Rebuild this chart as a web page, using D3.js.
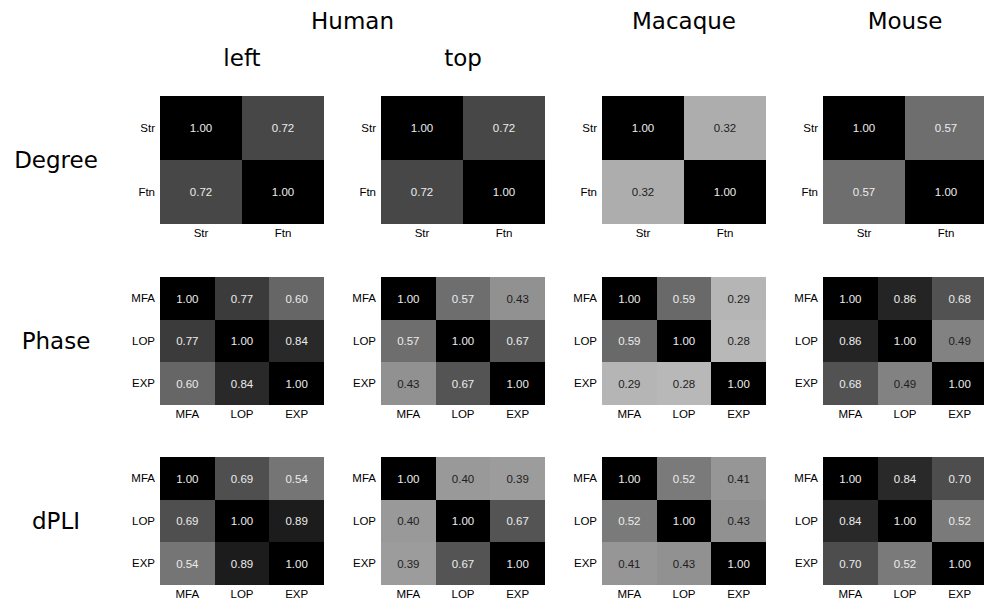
<!DOCTYPE html>
<meta charset="utf-8">
<title>Correlation matrices</title>
<script src="https://d3js.org/d3.v7.min.js"></script>
<style>
  body { margin: 0; background: #fff; }
  .tick text { font-family: "Liberation Sans", Arial, sans-serif; font-size: 11.5px; fill: #000; }
  .title { font-family: "DejaVu Sans", Verdana, sans-serif; font-size: 23px; fill: #000; }
  .val { font-family: "Liberation Sans", Arial, sans-serif; font-size: 11.5px; }
</style>
<div id="fig"></div>
<script>

// column headings
var species = ["Human", "Macaque", "Mouse"];
var humanViews = ["left", "top"];
var rowTitles = ["Degree", "Phase", "dPLI"];

// matrix labels
var degreeLabels = ["Str", "Ftn"];
var regionLabels = ["MFA", "LOP", "EXP"];

// Degree (Str vs Ftn), per panel: Human left, Human top, Macaque, Mouse
var degreeLeft    = [[1.00, 0.72], [0.72, 1.00]];
var degreeTop     = [[1.00, 0.72], [0.72, 1.00]];
var degreeMacaque = [[1.00, 0.32], [0.32, 1.00]];
var degreeMouse   = [[1.00, 0.57], [0.57, 1.00]];

// Phase
var phaseLeft    = [[1.00, 0.77, 0.60], [0.77, 1.00, 0.84], [0.60, 0.84, 1.00]];
var phaseTop     = [[1.00, 0.57, 0.43], [0.57, 1.00, 0.67], [0.43, 0.67, 1.00]];
var phaseMacaque = [[1.00, 0.59, 0.29], [0.59, 1.00, 0.28], [0.29, 0.28, 1.00]];
var phaseMouse   = [[1.00, 0.86, 0.68], [0.86, 1.00, 0.49], [0.68, 0.49, 1.00]];

// dPLI
var dpliLeft    = [[1.00, 0.69, 0.54], [0.69, 1.00, 0.89], [0.54, 0.89, 1.00]];
var dpliTop     = [[1.00, 0.40, 0.39], [0.40, 1.00, 0.67], [0.39, 0.67, 1.00]];
var dpliMacaque = [[1.00, 0.52, 0.41], [0.52, 1.00, 0.43], [0.41, 0.43, 1.00]];
var dpliMouse   = [[1.00, 0.84, 0.70], [0.84, 1.00, 0.52], [0.70, 0.52, 1.00]];

var rows = [
  { labels: degreeLabels, mats: [degreeLeft, degreeTop, degreeMacaque, degreeMouse] },
  { labels: regionLabels, mats: [phaseLeft, phaseTop, phaseMacaque, phaseMouse] },
  { labels: regionLabels, mats: [dpliLeft, dpliTop, dpliMacaque, dpliMouse] }
];

var width = 984, height = 599;
var panelW = 164, panelH = 128;
var colX = [160, 381, 602, 823];   // left edge of each panel column
var rowY = [96, 277, 457];         // top edge of each panel row

var svg = d3.select("#fig")
  .append("svg")
    .attr("width", width)
    .attr("height", height);

// grey colour map: 0 -> white, 1 -> black
var color = d3.scaleLinear().domain([0, 1]).range(["#ffffff", "#000000"]);

rows.forEach(function(row, ri) {
  var x = d3.scaleBand().domain(row.labels).range([0, panelW]);
  var y = d3.scaleBand().domain(row.labels).range([0, panelH]);

  row.mats.forEach(function(mat, ci) {
    var g = svg.append("g")
      .attr("transform", "translate(" + colX[ci] + "," + rowY[ri] + ")");

    var cells = [];
    mat.forEach(function(r, i) {
      r.forEach(function(v, j) {
        cells.push({ row: row.labels[i], col: row.labels[j], value: v });
      });
    });

    g.selectAll("rect")
      .data(cells)
      .enter()
      .append("rect")
        .attr("x", function(d) { return x(d.col); })
        .attr("y", function(d) { return y(d.row); })
        .attr("width", x.bandwidth())
        .attr("height", y.bandwidth())
        .attr("fill", function(d) { return color(d.value); })
        .attr("shape-rendering", "crispEdges");

    g.selectAll("text.val")
      .data(cells)
      .enter()
      .append("text")
        .attr("class", "val")
        .attr("text-anchor", "middle")
        .attr("x", function(d) { return x(d.col) + x.bandwidth() / 2; })
        .attr("y", function(d) { return y(d.row) + y.bandwidth() / 2 + 4.2; })
        .attr("fill", function(d) { return d.value > 0.5 ? "#ececec" : "#1e1e1e"; })
        .text(function(d) { return d.value.toFixed(2); });

    // tick labels
    g.append("g")
      .call(d3.axisLeft(y).tickSize(0).tickPadding(5))
      .call(function(a) { a.select(".domain").remove(); });

    g.append("g")
      .attr("transform", "translate(0," + panelH + ")")
      .call(d3.axisBottom(x).tickSize(0).tickPadding(5))
      .call(function(a) { a.select(".domain").remove(); });
  });
});

// row titles
svg.selectAll("text.rowtitle")
  .data(rowTitles)
  .enter()
  .append("text")
    .attr("class", "title")
    .attr("text-anchor", "middle")
    .attr("x", 56)
    .attr("y", function(d, i) { return rowY[i] + panelH / 2 + 8; })
    .text(function(d) { return d; });

// species headings
var speciesX = [(colX[0] + colX[1] + panelW) / 2, colX[2] + panelW / 2, colX[3] + panelW / 2];
svg.selectAll("text.species")
  .data(species)
  .enter()
  .append("text")
    .attr("class", "title")
    .attr("text-anchor", "middle")
    .attr("x", function(d, i) { return speciesX[i]; })
    .attr("y", 29)
    .text(function(d) { return d; });

// human sub-headings
svg.selectAll("text.view")
  .data(humanViews)
  .enter()
  .append("text")
    .attr("class", "title")
    .attr("text-anchor", "middle")
    .attr("x", function(d, i) { return colX[i] + panelW / 2; })
    .attr("y", 66)
    .text(function(d) { return d; });

</script>
